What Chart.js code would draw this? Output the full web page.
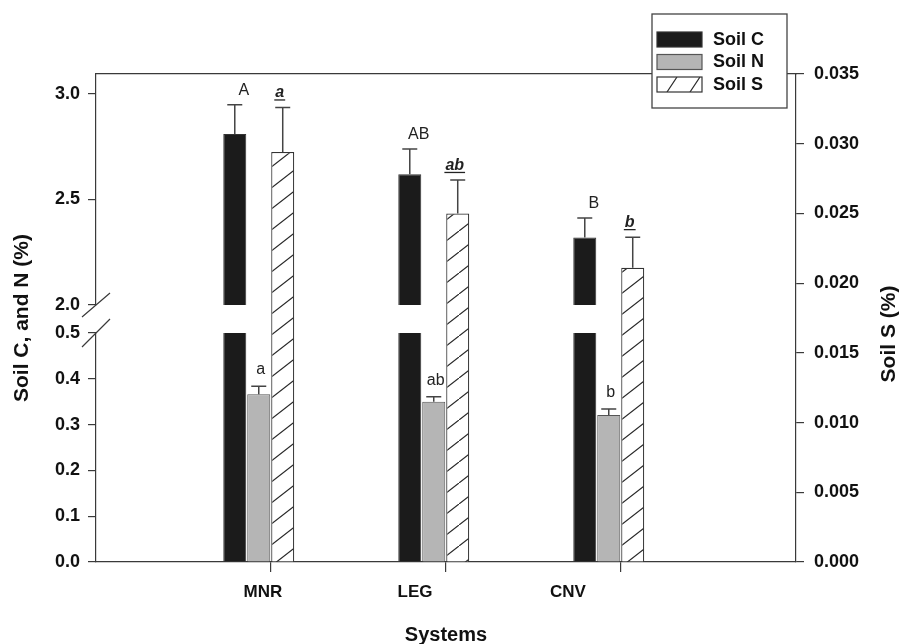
<!DOCTYPE html>
<html><head><meta charset="utf-8">
<script src="https://cdn.jsdelivr.net/npm/chart.js@4.4.1/dist/chart.umd.min.js"></script>
<style>html,body{margin:0;padding:0;background:#fff}#wrap{width:906px;height:644px;position:relative}</style>
</head><body><div id="wrap"><canvas id="c"></canvas></div>
<script>
// ---- data ----
const categories = ['MNR', 'LEG', 'CNV'];
const groupX = [1, 2, 3];
const seriesNames = ['Soil C', 'Soil N', 'Soil S'];
const soilC = [2.81, 2.62, 2.32];
const soilCErr = [0.139, 0.119, 0.092];
const soilN = [0.366, 0.350, 0.321];
const soilNErr = [0.018, 0.011, 0.013];
const soilS = [0.0294, 0.0250, 0.0211];
const soilSErr = [0.0032, 0.0024, 0.0022];
const lettersC = ['A', 'AB', 'B'];
const lettersN = ['a', 'ab', 'b'];
const lettersS = ['a', 'ab', 'b'];
const ticksUpper = [2.0, 2.5, 3.0];
const ticksLower = [0, 0.1, 0.2, 0.3, 0.4, 0.5];
const ticksRight = [0, 0.005, 0.010, 0.015, 0.020, 0.025, 0.030, 0.035];
const labelX = [1.024, 1.893, 2.767];
const titleLeft = 'Soil C, and N (%)';
const titleRight = 'Soil S (%)';
const titleBottom = 'Systems';

// ---- style ----
const FONT = "'Liberation Sans', Arial, Helvetica, sans-serif";
Chart.defaults.font.family = FONT;
const AXIS = '#3a3a3a';
const CAT_PCT = 0.411;
const BAR_PCT = 0.96;

function makeHatch() {
  const W = 27, H = 21;
  const c = document.createElement('canvas'); c.width = W; c.height = H;
  const g = c.getContext('2d');
  g.fillStyle = '#fff'; g.fillRect(0, 0, W, H);
  g.strokeStyle = '#2a2a2a'; g.lineWidth = 1.2;
  g.beginPath();
  for (const [dx, dy] of [[0, 0], [-W, H], [W, -H]]) { g.moveTo(dx, H + dy); g.lineTo(W + dx, dy); }
  g.stroke();
  return g.createPattern(c, 'repeat');
}
const hatch = makeHatch();
const pts = vals => vals.map((v, i) => ({x: groupX[i], y: v}));

const clipPlugin = {
  id: 'clipToAxis',
  beforeDatasetDraw(chart, args) {
    const ys = chart.scales[args.meta.yAxisID];
    const a = chart.chartArea, ctx = chart.ctx;
    ctx.save(); ctx.beginPath();
    ctx.rect(a.left, ys.top, a.right - a.left, ys.bottom - ys.top);
    ctx.clip();
  },
  afterDatasetDraw(chart) { chart.ctx.restore(); }
};

const errPlugin = {
  id: 'errLetters',
  afterDatasetsDraw(chart) {
    const ctx = chart.ctx;
    const spec = [
      {ds: 0, vals: soilC, err: soilCErr, let: lettersC, dx: 9, gap: 10, font: '16px ' + FONT, ul: false},
      {ds: 2, vals: soilN, err: soilNErr, let: lettersN, dx: 2, gap: 12, font: '16px ' + FONT, ul: false},
      {ds: 3, vals: soilS, err: soilSErr, let: lettersS, dx: -3, gap: 10, font: 'italic bold 16px ' + FONT, ul: true}
    ];
    for (const s of spec) {
      const meta = chart.getDatasetMeta(s.ds);
      const ys = chart.scales[meta.yAxisID];
      meta.data.forEach((el, i) => {
        const x = el.x, yTop = el.y;
        const yCap = ys.getPixelForValue(s.vals[i] + s.err[i]);
        ctx.save();
        ctx.strokeStyle = '#444'; ctx.lineWidth = 1.5;
        ctx.beginPath();
        ctx.moveTo(x, yTop); ctx.lineTo(x, yCap);
        ctx.moveTo(x - 7.5, yCap); ctx.lineTo(x + 7.5, yCap);
        ctx.stroke();
        ctx.font = s.font; ctx.fillStyle = '#222';
        ctx.textAlign = 'center'; ctx.textBaseline = 'alphabetic';
        const ty = yCap - s.gap;
        ctx.fillText(s.let[i], x + s.dx, ty);
        if (s.ul) {
          const w = ctx.measureText(s.let[i]).width;
          ctx.lineWidth = 1.3; ctx.strokeStyle = '#222';
          ctx.beginPath();
          ctx.moveTo(x + s.dx - w / 2 - 1, ty + 2.5); ctx.lineTo(x + s.dx + w / 2 + 1, ty + 2.5);
          ctx.stroke();
        }
        ctx.restore();
      });
    }
  }
};

const decoPlugin = {
  id: 'deco',
  afterDraw(chart) {
    const ctx = chart.ctx, a = chart.chartArea;
    // axis break marks
    const up = chart.scales.yUp, lo = chart.scales.yLow, rs = chart.scales.yS;
    const x = up.right;
    ctx.save();
    ctx.strokeStyle = AXIS; ctx.lineWidth = 1.2;
    ctx.beginPath();
    ctx.moveTo(x - 14, up.bottom + 12); ctx.lineTo(x + 14, up.bottom - 12);
    ctx.moveTo(x - 14, lo.top + 14); ctx.lineTo(x + 14, lo.top - 14);
    ctx.stroke();
    // right axis title (reads bottom to top)
    ctx.save();
    ctx.translate(rs.right - 17, (a.top + a.bottom) / 2 + 16);
    ctx.rotate(-Math.PI / 2);
    ctx.font = 'bold 21px ' + FONT; ctx.fillStyle = '#111';
    ctx.textAlign = 'center'; ctx.textBaseline = 'middle';
    ctx.fillText(titleRight, 0, 0);
    ctx.restore();
    // legend box
    const bx = a.right - 144, by = a.top - 60, bw = 135, bh = 94;
    ctx.fillStyle = '#fff'; ctx.fillRect(bx, by, bw, bh);
    ctx.strokeStyle = '#444'; ctx.lineWidth = 1.3; ctx.strokeRect(bx, by, bw, bh);
    const fills = ['#1b1b1b', '#b5b5b5', null];
    const borders = ['#333', '#555', '#333'];
    ctx.font = 'bold 18px ' + FONT; ctx.textBaseline = 'middle'; ctx.textAlign = 'left';
    for (let i = 0; i < 3; i++) {
      const sx = bx + 5, sy = by + 18 + i * 22.5, sw = 45, sh = 15;
      ctx.fillStyle = fills[i] || '#fff';
      ctx.fillRect(sx, sy, sw, sh);
      if (!fills[i]) {
        ctx.save();
        ctx.beginPath(); ctx.rect(sx, sy, sw, sh); ctx.clip();
        ctx.strokeStyle = '#2a2a2a'; ctx.lineWidth = 1.2;
        ctx.beginPath();
        for (const ox of [10, 33]) { ctx.moveTo(sx + ox, sy + sh); ctx.lineTo(sx + ox + 10, sy); }
        ctx.stroke();
        ctx.restore();
      }
      ctx.strokeStyle = borders[i]; ctx.lineWidth = 1.2;
      ctx.strokeRect(sx, sy, sw, sh);
      ctx.fillStyle = '#111';
      ctx.fillText(seriesNames[i], sx + 56, sy + sh / 2 + 0.5);
    }
    ctx.restore();
  }
};

const tickFont = {family: FONT, size: 18, weight: 'bold'};
const titleFont = {family: FONT, size: 21, weight: 'bold'};
const gridTicks = {display: true, drawOnChartArea: false, drawTicks: true, tickLength: 8, color: AXIS, lineWidth: 1.2};
const borderOn = {display: true, color: AXIS, width: 1.2};
const setW = w => s => { s.width = w; };
const setH = h => s => { s.height = h; };

new Chart(document.getElementById('c'), {
  type: 'bar',
  data: {
    datasets: [
      {label: seriesNames[0], data: pts(soilC), yAxisID: 'yUp', stack: 'c',
       backgroundColor: '#1b1b1b', borderColor: '#333', borderWidth: 1},
      {label: seriesNames[0] + ' (lower)', data: pts(soilC), yAxisID: 'yLow', stack: 'c',
       backgroundColor: '#1b1b1b', borderColor: '#333', borderWidth: 1},
      {label: seriesNames[1], data: pts(soilN), yAxisID: 'yLow', stack: 'n',
       backgroundColor: '#b5b5b5', borderColor: '#555', borderWidth: 1},
      {label: seriesNames[2], data: pts(soilS), yAxisID: 'yS', stack: 's',
       backgroundColor: hatch, borderColor: '#333', borderWidth: 1.2}
    ]
  },
  options: {
    responsive: true, maintainAspectRatio: false, animation: false,
    categoryPercentage: CAT_PCT, barPercentage: BAR_PCT,
    layout: {padding: {top: 74, left: 0, right: 0, bottom: 0}},
    plugins: {legend: {display: false}, tooltip: {enabled: false}},
    scales: {
      x: {type: 'linear', position: 'bottom', weight: 0, min: 0.07, max: 4.07, offset: false,
          afterBuildTicks: s => { s.ticks = groupX.map(v => ({value: v + CAT_PCT / 6})); },
          ticks: {display: false},
          grid: {display: true, offset: false, drawOnChartArea: false, drawTicks: true, tickLength: 10, color: AXIS, lineWidth: 1.2},
          border: borderOn, afterFit: setH(10)},
      xLab: {type: 'linear', position: 'bottom', weight: 1, min: 0.07, max: 4.07, offset: false,
          afterBuildTicks: s => { s.ticks = labelX.map(v => ({value: v})); },
          ticks: {display: true, autoSkip: false, maxRotation: 0, padding: 10, color: '#111',
                  font: {family: FONT, size: 17, weight: 'bold'},
                  callback: (v, i) => categories[i]},
          grid: {display: false, offset: false, drawTicks: false}, border: {display: false},
          title: {display: true, text: titleBottom, color: '#111', font: {family: FONT, size: 20, weight: 'bold', lineHeight: 1}, padding: {top: 0, bottom: -1}},
          afterFit: setH(72)},
      xTop: {type: 'linear', position: 'top', min: 0, max: 1, offset: false,
          ticks: {display: false}, grid: {display: false, drawTicks: false},
          border: borderOn, afterFit: setH(0)},
      yTitle: {type: 'linear', position: 'left', weight: 10, min: 0, max: 1,
          ticks: {display: false}, grid: {display: false, drawTicks: false}, border: {display: false},
          title: {display: true, text: titleLeft, color: '#111', font: titleFont, padding: {top: 10, bottom: 0}},
          afterFit: setW(34)},
      yUp: {type: 'linear', position: 'left', stack: 'L', stackWeight: 231, weight: 3,
          min: 2.0, max: 3.095, stacked: false,
          afterBuildTicks: s => { s.ticks = ticksUpper.map(v => ({value: v})); },
          ticks: {font: tickFont, color: '#111', padding: 8, callback: v => v.toFixed(1)},
          grid: gridTicks, border: borderOn, afterFit: setW(62)},
      yGap: {type: 'linear', position: 'left', stack: 'L', stackWeight: 28, weight: 2, min: 0, max: 1,
          ticks: {display: false}, grid: {display: false, drawTicks: false}, border: {display: false},
          afterFit: setW(62)},
      yLow: {type: 'linear', position: 'left', stack: 'L', stackWeight: 229, weight: 1,
          min: 0, max: 0.5, stacked: false,
          afterBuildTicks: s => { s.ticks = ticksLower.map(v => ({value: v})); },
          ticks: {font: tickFont, color: '#111', padding: 8, callback: v => v.toFixed(1)},
          grid: gridTicks, border: borderOn, afterFit: setW(62)},
      yS: {type: 'linear', position: 'right', min: 0, max: 0.035, stacked: false,
          afterBuildTicks: s => { s.ticks = ticksRight.map(v => ({value: v})); },
          ticks: {font: tickFont, color: '#111', padding: 10, callback: v => v.toFixed(3)},
          grid: gridTicks, border: borderOn,
          afterFit: setW(110)}
    }
  },
  plugins: [clipPlugin, errPlugin, decoPlugin]
});
</script>
</body></html>
